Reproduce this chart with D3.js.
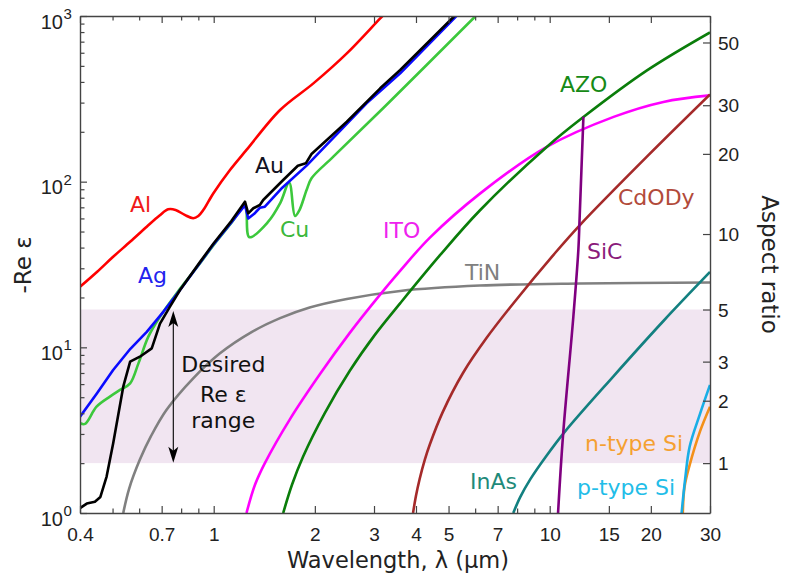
<!DOCTYPE html>
<html><head><meta charset="utf-8">
<script src="https://cdn.jsdelivr.net/npm/d3@7/dist/d3.min.js"></script>
<style>body{margin:0;background:#fff}</style>
</head><body><svg id="c" width="785" height="580"></svg>
<script>
// ---------- data ----------
const xTickValues = [0.4,0.5,0.6,0.7,0.8,0.9,1,2,3,4,5,6,7,8,9,10,15,20,30];
const xTickLabels = [0.4,0.7,1,2,3,4,5,7,10,15,20,30];
const yDecades = [1,10,100,1000];
const aspectTicks = [1,2,3,5,10,20,30,50];
const bandAspect = [1,5];

const Al = [[0.4,23.2],[0.45,28.6],[0.502,35.2],[0.565,43.5],[0.632,53.5],[0.69,62.5],[0.732,68.1],[0.77,67.5],[0.82,63],[0.869,60.1],[0.9,62],[0.931,67.4],[0.965,76],[0.998,85.1],[1.118,117.6],[1.252,155.4],[1.576,270.8],[1.98,392],[2.49,595],[3.13,968],[3.3,1080]];
const Ag = [[0.4,3.81],[0.45,5.3],[0.502,7.3],[0.565,9.8],[0.632,12.4],[0.71,16.5],[0.794,22.2],[0.911,32.4],[1.0,42],[1.13,57],[1.239,72],[1.267,60],[1.32,64],[1.372,69.5],[1.42,70.6],[1.6,92],[1.89,125],[2.85,297],[3.59,451],[5.25,990],[5.4,1050]];
const Au = [[0.4,1.07],[0.419,1.14],[0.443,1.17],[0.46,1.25],[0.48,1.66],[0.502,2.63],[0.538,5.79],[0.564,8.19],[0.603,8.78],[0.654,9.85],[0.692,13.9],[0.741,17.6],[0.794,22.2],[0.911,32.8],[1.0,42.5],[1.13,58],[1.239,75.7],[1.267,64.4],[1.312,69.1],[1.372,72.3],[1.404,77.5],[1.61,102.4],[1.78,124.8],[1.88,129],[1.955,146.9],[2.49,230],[3.13,366],[3.59,472],[5.18,990],[5.3,1040]];
const Cu = [[0.4,3.48],[0.414,3.45],[0.448,4.38],[0.491,5.04],[0.526,5.53],[0.564,6.06],[0.597,8.0],[0.639,11.6],[0.692,15.3],[0.776,21.2],[0.911,32.2],[1.0,41.5],[1.13,56.5],[1.239,71.3],[1.277,46.2],[1.453,57.3],[1.576,74],[1.678,98.6],[1.746,62.1],[1.80,67.4],[1.89,89.1],[1.955,104.8],[2.27,141.5],[3.38,311],[5.99,990],[6.2,1060]];
const ITO = [[1.252,1],[1.327,1.48],[1.42,2.0],[1.687,3.69],[2.072,6.9],[2.544,12.27],[3.025,19.15],[3.592,29.05],[4.40,45.96],[6.2,84.7],[9.8,162.1],[15.5,246],[21.8,303],[30,331.7]];
const AZO = [[1.61,1],[1.71,1.48],[1.843,2.18],[2.141,4.01],[2.544,7.24],[3.025,11.97],[3.592,18.49],[4.716,36.0],[6.204,67.2],[9.8,162.1],[12.57,244.6],[19.48,469.5],[30,796]];
const TiN = [[0.538,1],[0.56,1.4],[0.603,2.1],[0.65,2.9],[0.724,4.2],[0.869,6.5],[1.044,9.2],[1.3,12.4],[1.576,15.0],[1.93,17.4],[2.49,19.6],[3.59,21.9],[6.2,23.6],[12.3,24.3],[30,24.6]];
const CdODy = [[3.92,1],[4.0,1.27],[4.1,1.6],[4.25,2.1],[4.4,2.6],[4.8,4.05],[5.52,7.0],[6.5,11.45],[7.79,18.4],[10.5,38.15],[12.3,54.7],[19.5,142],[30,336]];
const SiC = [[10.59,1],[10.95,2.89],[11.76,15.3],[12.17,38.7],[12.28,61.3],[12.6,247]];
const InAs = [[7.79,1],[8.17,1.246],[8.76,1.60],[9.70,2.163],[11.1,3.10],[15.5,6.71],[21.8,14.42],[30,28.5]];
const nSi = [[24.9,1],[25.2,1.44],[26.1,1.95],[28.0,3.1],[30,4.38]];
const pSi = [[24.7,1],[25.3,1.6],[26.1,2.52],[28.0,3.95],[30,5.93]];

const series = [
  {data:TiN, color:"#808080", label:"TiN", lx:465, ly:280, lc:"#808080", c:"smooth"},
  {data:ITO, color:"#ff00ff", label:"ITO", lx:383, ly:238, lc:"#ee22ee", c:"smooth"},
  {data:AZO, color:"#0a7d0a", label:"AZO", lx:560, ly:92, lc:"#168a16", c:"smooth"},
  {data:CdODy, color:"#a52a2a", label:"CdODy", lx:618, ly:205, lc:"#b24a3a", c:"smooth"},
  {data:InAs, color:"#138080", label:"InAs", lx:470, ly:489, lc:"#1f8a7a", c:"smooth"},
  {data:nSi, color:"#f39019", label:"n-type Si", lx:585, ly:451, lc:"#f5a030", c:"smooth"},
  {data:pSi, color:"#19aee6", label:"p-type Si", lx:577, ly:495, lc:"#22bde8", c:"smooth"},
  {data:SiC, color:"#800080", label:"SiC", lx:587, ly:259, lc:"#8a1a7a", c:"smooth"},
  {data:Al, color:"#ff0000", label:"Al", lx:130, ly:212, lc:"#f01818", c:"smooth"},
  {data:Cu, color:"#3cc83c", label:"Cu", lx:280, ly:237, lc:"#3cb83c", c:"smooth"},
  {data:Ag, color:"#0a0aff", label:"Ag", lx:138, ly:283, lc:"#2222ee", c:"linear"},
  {data:Au, color:"#000000", label:"Au", lx:255, ly:173, lc:"#111122", c:"linear"}
];

// ---------- helpers ----------
function arToEps(ar){
  if (ar === 1) return 2;
  const e2 = 1 - 1/(ar*ar), e = Math.sqrt(e2);
  const L = (1-e2)/e2 * (Math.log((1+e)/(1-e))/(2*e) - 1);
  return (1-L)/L;
}

const svg = d3.select("#c");
const pL = 80, pR = 710, pT = 16, pB = 513;
const x = d3.scaleLog().domain([0.4,30]).range([pL,pR]);
const y = d3.scaleLog().domain([1,1000]).range([pB,pT]);
const TXT = "DejaVu Sans, sans-serif";
const NUM = "Liberation Sans, Arial, sans-serif";
const axisColor = "#444";

svg.append("defs").append("clipPath").attr("id","clip")
  .append("rect").attr("x",pL).attr("y",pT).attr("width",pR-pL).attr("height",pB-pT);

// band
svg.append("rect").attr("x",pL).attr("width",pR-pL)
  .attr("y",y(arToEps(bandAspect[1]))).attr("height",y(arToEps(bandAspect[0]))-y(arToEps(bandAspect[1])))
  .attr("fill","#f1e5f1");

// curves
const lineSmooth = d3.line().x(d=>x(d[0])).y(d=>y(d[1])).curve(d3.curveCatmullRom.alpha(0.5));
const lineLin = d3.line().x(d=>x(d[0])).y(d=>y(d[1]));
const cg = svg.append("g").attr("clip-path","url(#clip)");
series.forEach(s=>{
  cg.append("path").attr("d",(s.c==="smooth"?lineSmooth:lineLin)(s.data)).attr("fill","none")
    .attr("stroke",s.color).attr("stroke-width",2.6).attr("stroke-linejoin","round");
});

// axes
const isLabeled = v => xTickLabels.some(t=>Math.abs(t-v)<1e-9);
function styleAxis(g){
  g.select(".domain").attr("stroke",axisColor).attr("stroke-width",1.4);
  g.selectAll(".tick line").attr("stroke",axisColor).attr("stroke-width",1.2);
}
const gx = svg.append("g").attr("transform",`translate(0,${pB})`)
  .call(d3.axisBottom(x).tickValues(xTickValues).tickSizeOuter(0)
        .tickFormat(d=>isLabeled(d)?d3.format("~g")(d):""));
styleAxis(gx);
gx.selectAll(".tick line").attr("y2",d=>isLabeled(d)?-7:-4.5);
gx.selectAll(".tick text").attr("y",28).attr("dy",0).attr("font-family",NUM).attr("font-size",19).attr("fill","#222");

const gt = svg.append("g").attr("transform",`translate(0,${pT})`)
  .call(d3.axisTop(x).tickValues(xTickValues).tickSizeOuter(0).tickFormat(""));
styleAxis(gt);
gt.selectAll(".tick line").attr("y2",d=>isLabeled(d)?7:4.5);

const yAll = [];
yDecades.forEach((d,i)=>{ if(i<yDecades.length-1){ for(let k=1;k<10;k++) yAll.push(d*k);} else yAll.push(d); });
const gy = svg.append("g").attr("transform",`translate(${pL},0)`)
  .call(d3.axisLeft(y).tickValues(yAll).tickSizeOuter(0).tickFormat(""));
styleAxis(gy);
gy.selectAll(".tick line").attr("x2",d=>yDecades.includes(d)?7:4.5);
yDecades.forEach(d=>{
  const yy = y(d), exp = Math.round(Math.log10(d));
  svg.append("text").attr("x",63).attr("y",yy+12.5).attr("text-anchor","end")
    .attr("font-family",NUM).attr("font-size",20).attr("fill","#222").text("10");
  svg.append("text").attr("x",63.5).attr("y",yy+3).attr("text-anchor","start")
    .attr("font-family",NUM).attr("font-size",15).attr("fill","#222").text(exp);
});

const gr = svg.append("g").attr("transform",`translate(${pR},0)`)
  .call(d3.axisRight(y).tickValues(aspectTicks.map(arToEps)).tickSizeOuter(0)
        .tickFormat((d,i)=>aspectTicks[i]));
styleAxis(gr);
gr.selectAll(".tick line").attr("x2",-7);
gr.selectAll(".tick text").attr("x",8).attr("dy","0.35em").attr("font-family",NUM).attr("font-size",19).attr("fill","#222");

// axis titles
svg.append("text").attr("x",398).attr("y",568).attr("text-anchor","middle")
  .attr("font-family",TXT).attr("font-size",22.5).attr("fill","#222").text("Wavelength, λ (µm)");
svg.append("text").attr("transform","translate(31,265) rotate(-90)").attr("text-anchor","middle")
  .attr("font-family",TXT).attr("font-size",23).attr("fill","#222").text("-Re ε");
svg.append("text").attr("transform","translate(762,264.5) rotate(90)").attr("text-anchor","middle")
  .attr("font-family",TXT).attr("font-size",23).attr("fill","#222").text("Aspect ratio");

// series labels
series.forEach(s=>{
  svg.append("text").attr("x",s.lx).attr("y",s.ly).attr("font-family",TXT)
    .attr("font-size",22).attr("fill",s.lc).text(s.label);
});

// desired range annotation
const ax = 173.3, aTop = y(arToEps(bandAspect[1]))+1.5, aBot = y(arToEps(bandAspect[0]))-0.5;
svg.append("line").attr("x1",ax).attr("x2",ax).attr("y1",aTop+6).attr("y2",aBot-6)
  .attr("stroke","#000").attr("stroke-width",1.1);
svg.append("path").attr("d",`M${ax},${aTop} L${ax+5},${aTop+16} L${ax},${aTop+12} L${ax-5},${aTop+16} Z`).attr("fill","#000");
svg.append("path").attr("d",`M${ax},${aBot} L${ax+5},${aBot-16} L${ax},${aBot-12} L${ax-5},${aBot-16} Z`).attr("fill","#000");
[["Desired",371.7],["Re ε",401.7],["range",428.3]].forEach(([t,yy])=>{
  svg.append("text").attr("x",223.3).attr("y",yy).attr("text-anchor","middle")
    .attr("font-family",TXT).attr("font-size",22).attr("fill","#111").text(t);
});
</script></body></html>
